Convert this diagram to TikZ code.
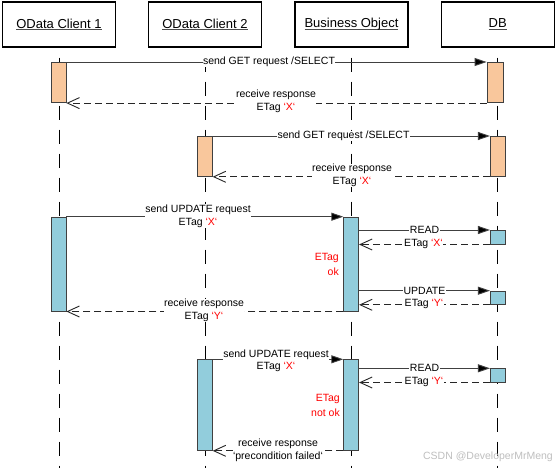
\documentclass[tikz,border=0pt]{standalone}
\usepackage{fontspec}
\setmainfont{Liberation Sans}
\usetikzlibrary{arrows.meta}
\definecolor{orangefill}{HTML}{F9C79C}
\definecolor{bluefill}{HTML}{92CDDC}
\definecolor{barline}{HTML}{404040}
\definecolor{etagred}{HTML}{FF0000}
\newcommand{\hdul}[1]{\setbox0\hbox{#1}\rlap{\color{black!70}\rule[-2pt]{\wd0}{0.8pt}}\box0}
\newcommand{\qx}[1]{\textcolor{etagred}{‘#1‘}}
\begin{document}
\begin{tikzpicture}[x=1pt,y=-1pt,
  head/.style={draw=black, line width=1.4pt, minimum width=113pt, minimum height=45pt, inner sep=0pt, font=\fontsize{13}{15}\selectfont},
  bar/.style={draw=barline, line width=0.8pt, inner sep=0pt, anchor=north},
  obar/.style={bar, fill=orangefill},
  bbar/.style={bar, fill=bluefill},
  lifeline/.style={draw=black, line width=0.8pt, dash pattern=on 14pt off 10pt, dash phase=14pt},
  msg/.style={draw=black!75, line width=0.9pt, -{Triangle[length=12pt,width=8pt,fill=black]}},
  ret/.style={draw=black!85, line width=0.9pt, dash pattern=on 7pt off 4pt, -{Straight Barb[length=12pt,width=11pt]}},
  lbl/.style={fill=white, inner sep=0.5pt, align=center, font=\fontsize{10.5}{12.7}\selectfont},
  note/.style={text=etagred, inner sep=0pt, align=right, anchor=east, font=\fontsize{10.5}{15}\selectfont},
]
\useasboundingbox[fill=white] (0,0) rectangle (556,468);

% headers
\node[head] (h1) at (59,24.5) {\hdul{OData Client 1}};
\node[head] (h2) at (205,24.5) {\hdul{OData Client 2}};
\node[head] (h3) at (351.5,24.5) {\hdul{Business Object}};
\node[head] (h4) at (497.7,24.5) {\hdul{DB}};

% lifeline ends
\coordinate (e1) at (59,468);
\coordinate (e2) at (205,468);
\coordinate (e3) at (351.5,468);
\coordinate (e4) at (497.7,468);
\draw[lifeline] (h1.south) -- (e1);
\draw[lifeline] (h2.south) -- (e2);
\draw[lifeline] (h3.south) -- (e3);
\draw[lifeline] (h4.south) -- (e4);

% activation bars
\node[obar, minimum width=15pt, minimum height=40.3pt] (c1a) at (58.5,62) {};
\node[obar, minimum width=16pt, minimum height=40.3pt] (dba) at (495,62) {};
\node[obar, minimum width=14.6pt, minimum height=40pt] (c2a) at (205,136) {};
\node[obar, minimum width=14.7pt, minimum height=40pt] (dbb) at (497.7,136) {};
\node[bbar, minimum width=15pt, minimum height=94pt] (c1b) at (58.5,216.7) {};
\node[bbar, minimum width=15pt, minimum height=94pt] (boa) at (351.2,216.7) {};
\node[bbar, minimum width=14.7pt, minimum height=13.7pt] (dbc) at (497.7,230) {};
\node[bbar, minimum width=14.7pt, minimum height=13.3pt] (dbd) at (497.7,290.7) {};
\node[bbar, minimum width=14.6pt, minimum height=90.7pt] (c2b) at (205,359.3) {};
\node[bbar, minimum width=15pt, minimum height=90.7pt] (bob) at (351.2,359.3) {};
\node[bbar, minimum width=14.7pt, minimum height=13.4pt] (dbe) at (497.7,368.3) {};

% messages
\draw[msg] (c1a.north east) -- (dba.north west);
\draw[ret] (dba.south west) -- (c1a.south east);
\draw[msg] (c2a.north east) -- (dbb.north west);
\draw[ret] (dbb.south west) -- (c2a.south east);
\draw[msg] (c1b.north east) -- (boa.north west);
\draw[msg] (boa.east |- dbc.north) -- (dbc.north west);
\draw[ret] (dbc.south west) -- (boa.east |- dbc.south);
\draw[msg] (boa.east |- dbd.north) -- (dbd.north west);
\draw[ret] (dbd.south west) -- (boa.east |- dbd.south);
\draw[ret] (boa.south west) -- (c1b.south east);
\draw[msg] (c2b.north east) -- (bob.north west);
\draw[msg] (bob.east |- dbe.north) -- (dbe.north west);
\draw[ret] (dbe.south west) -- (bob.east |- dbe.south);
\draw[ret] (bob.south west) -- (c2b.south east);

% labels
\node[lbl] (l1) at (269,62) {send GET request /SELECT};
\node[lbl] (l2) at (276,101.3) {receive response\\ETag \qx{X}};
\node[lbl] (l3) at (343.5,136) {send GET request /SELECT};
\node[lbl] (l4) at (352,175.5) {receive response\\ETag \qx{X}};
\node[lbl] (l5) at (198,216) {send UPDATE request\\ETag \qx{X}};
\node[lbl] (l6) at (424.5,230) {READ};
\node[lbl] (l7) at (423.5,243.7) {ETag \qx{X}};
\node[note] (n1) at (339,264.2) {ETag\\ok};
\node[lbl] (l8) at (424.5,290.7) {UPDATE};
\node[lbl] (l9) at (424,304) {ETag \qx{Y}};
\node[lbl] (l10) at (204,310.4) {receive response\\ETag \qx{Y}};
\node[lbl] (l11) at (276,360.8) {send UPDATE request\\ETag \qx{X}};
\node[lbl] (l12) at (424.5,368.3) {READ};
\node[lbl] (l13) at (424,381.7) {ETag \qx{Y}};
\node[note] (n2) at (340,405) {ETag\\not ok};
\node[lbl] (l14) at (278,450) {receive response\\‘precondition failed‘};

% watermark
\node[text=black!25, inner sep=0pt, font=\fontsize{10.5}{12}\selectfont] (wm) at (488,456.7) {CSDN @DeveloperMrMeng};
\end{tikzpicture}
\end{document}
